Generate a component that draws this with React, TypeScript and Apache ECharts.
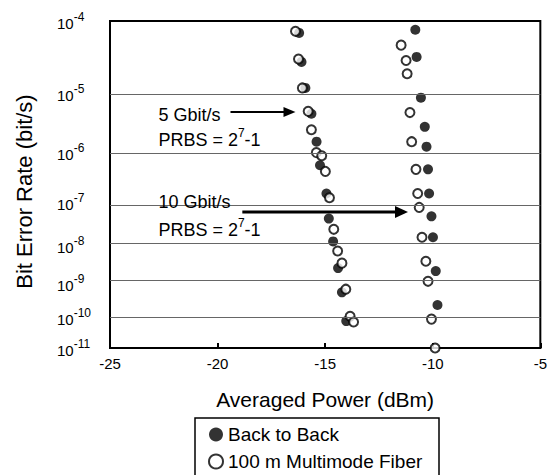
import React, { useEffect, useRef } from "react";
import * as echarts from "echarts";

// BER axis ticks: exponent n means BER = 10^-n
const tickExponents = [4, 5, 6, 7, 8, 9, 10, 11];
const gridExponents = [5, 6, 7, 8, 9, 10];
const xMin = -25;
const xMax = -5;
const xInterval = 5;

// Back to Back (filled) – 5 Gbit/s and 10 Gbit/s
const b2bPower = [
  -16.21, -16.1, -15.92, -15.64, -15.4, -15.24, -14.94, -14.83, -14.63, -14.4, -14.22, -14.02,
  -10.81, -10.75, -10.55, -10.37, -10.29, -10.22, -10.17, -10.06, -9.99, -9.86, -9.78,
];
const b2bBerExp = [
  4.15, 4.54, 4.92, 5.33, 5.81, 6.25, 6.82, 7.37, 7.91, 8.59, 9.26, 10.12,
  4.11, 4.47, 5.07, 5.55, 5.9, 6.33, 6.82, 7.32, 7.81, 8.67, 9.63,
];

// 100 m Multimode Fiber (open)
const mmfPower = [
  -16.38, -16.24, -16.06, -15.79, -15.64, -15.41, -15.16, -14.99, -14.8, -14.6, -14.42, -14.22, -14.04, -13.84, -13.68,
  -11.47, -11.24, -11.19, -11.06, -10.98, -10.78, -10.7, -10.63, -10.5, -10.32, -10.22, -10.06, -9.89,
];
const mmfBerExp = [
  4.13, 4.5, 4.92, 5.29, 5.6, 6.01, 6.07, 6.37, 6.91, 7.62, 8.15, 8.46, 9.17, 9.97, 10.15,
  4.31, 4.52, 4.71, 5.31, 5.81, 6.33, 6.82, 7.12, 7.81, 8.41, 8.95, 10.06, 11.0,
];

// annotation anchors (power dBm, BER exponent)
const note5Text = { x: -22.75, line1: 5.345, line2: 5.739 };
const note5Arrow = { from: -19.4, to: -16.38, e: 5.3 };
const note10Text = { x: -22.75, line1: 7.0, line2: 7.598 };
const note10Arrow = { from: -18.85, to: -11.15, e: 7.224 };

const FONT = "'Liberation Sans', Arial, Helvetica, sans-serif";
const ly = (e: number) => Math.log10(e);

export default function App() {
  const ref = useRef<HTMLDivElement>(null);

  useEffect(() => {
    document.body.style.margin = "0";
    const el = ref.current!;
    const chart = echarts.init(el, null, { renderer: "svg" });

    const option: any = {
      animation: false,
      backgroundColor: "#fff",
      textStyle: { fontFamily: FONT, color: "#000" },
      grid: {
        left: 110,
        right: 4,
        top: 21,
        bottom: 127,
        show: true,
        borderColor: "#000",
        borderWidth: 2,
        backgroundColor: "transparent",
      },
      xAxis: {
        type: "value",
        min: xMin,
        max: xMax,
        interval: xInterval,
        name: "Averaged Power (dBm)",
        nameLocation: "middle",
        nameGap: 41,
        nameTextStyle: { fontSize: 21, color: "#000", fontFamily: FONT },
        axisLine: { show: true, lineStyle: { color: "#000", width: 2 } },
        axisTick: { show: true, inside: true, length: 5, lineStyle: { color: "#000", width: 2 } },
        axisLabel: { fontSize: 15, color: "#000", margin: 8, fontFamily: FONT },
        splitLine: { show: false },
      },
      yAxis: {
        type: "value",
        min: ly(tickExponents[0]),
        max: ly(tickExponents[tickExponents.length - 1]),
        inverse: true,
        name: "Bit Error Rate (bit/s)",
        nameLocation: "middle",
        nameGap: 75,
        nameTextStyle: { fontSize: 22, color: "#000", fontFamily: FONT, padding: [0, 14, 0, 0] },
        axisLine: { show: true, lineStyle: { color: "#000", width: 2 } },
        axisTick: { show: false },
        splitLine: { show: false },
        axisLabel: {
          customValues: tickExponents.map(ly),
          align: "left",
          margin: 53,
          formatter: (v: number) => `{b|10}{s|-${Math.round(Math.pow(10, v))}}`,
          rich: {
            b: { fontSize: 15, lineHeight: 20, verticalAlign: "bottom", color: "#000", fontFamily: FONT },
            s: { fontSize: 12, lineHeight: 12, verticalAlign: "top", color: "#000", fontFamily: FONT },
          },
        },
      },
      legend: {
        orient: "vertical",
        left: 208,
        top: 425,
        padding: 0,
        itemGap: 8,
        itemWidth: 14,
        itemHeight: 14,
        data: ["Back to Back", "100 m Multimode Fiber"],
        textStyle: { fontSize: 19, color: "#000", fontFamily: FONT },
      },
      series: [
        {
          type: "scatter",
          data: [],
          silent: true,
          z: 1,
          markLine: {
            silent: true,
            symbol: "none",
            label: { show: false },
            lineStyle: { color: "#666", width: 1, type: "solid" },
            data: gridExponents.map((e) => ({ yAxis: ly(e) })),
          },
        },
        {
          name: "Back to Back",
          type: "scatter",
          symbol: "circle",
          symbolSize: 10,
          z: 3,
          itemStyle: { color: "#000" },
          data: b2bPower.map((x, i) => [x, ly(b2bBerExp[i])]),
        },
        {
          name: "100 m Multimode Fiber",
          type: "scatter",
          symbol: "circle",
          symbolSize: 9,
          z: 4,
          itemStyle: { color: "#fff", borderColor: "#000", borderWidth: 2 },
          data: mmfPower.map((x, i) => [x, ly(mmfBerExp[i])]),
        },
      ],
    };
    chart.setOption(option);

    const px = (x: number, e: number) => chart.convertToPixel({ gridIndex: 0 }, [x, ly(e)]) as number[];
    const arrow = (from: number, to: number, e: number, w: number, hl: number, hw: number) => {
      const a = px(from, e);
      const b = px(to, e);
      return [
        { type: "line", z: 10, shape: { x1: a[0], y1: a[1], x2: b[0] - hl + 1, y2: b[1] }, style: { stroke: "#000", lineWidth: w } },
        {
          type: "polygon",
          z: 10,
          shape: { points: [[b[0], b[1]], [b[0] - hl, b[1] - hw], [b[0] - hl, b[1] + hw]] },
          style: { fill: "#000" },
        },
      ];
    };
    const txt = (x: number, e: number, text: string) => {
      const p = px(x, e);
      return {
        type: "text",
        z: 10,
        x: p[0],
        y: p[1],
        style: {
          text,
          fontSize: 18,
          fontFamily: FONT,
          fill: "#000",
          align: "left",
          verticalAlign: "middle",
          rich: {
            s: { fontSize: 12, lineHeight: 12, verticalAlign: "top", fontFamily: FONT, fill: "#000" },
            n: { fontSize: 18, lineHeight: 22, verticalAlign: "bottom", fontFamily: FONT, fill: "#000" },
          },
        },
      };
    };
    const p10 = px(note10Text.x, note10Text.line1);
    chart.setOption({
      graphic: [
        txt(note5Text.x, note5Text.line1, "5 Gbit/s"),
        txt(note5Text.x, note5Text.line2, "{n|PRBS = 2}{s|7}{n|-1}"),
        ...arrow(note5Arrow.from, note5Arrow.to, note5Arrow.e, 2, 12, 5),
        {
          type: "rect",
          z: 9,
          shape: { x: p10[0] - 7, y: p10[1] - 3, width: 124, height: 6 },
          style: { fill: "#fff" },
        },
        txt(note10Text.x, note10Text.line1, "10 Gbit/s"),
        txt(note10Text.x, note10Text.line2, "{n|PRBS = 2}{s|7}{n|-1}"),
        ...arrow(note10Arrow.from, note10Arrow.to, note10Arrow.e, 3, 13, 6),
        {
          type: "rect",
          z: 10,
          silent: true,
          shape: { x: 195, y: 418, width: 244, height: 80 },
          style: { fill: "none", stroke: "#000", lineWidth: 1.5 },
        },
      ],
    });

    return () => chart.dispose();
  }, []);

  return <div ref={ref} style={{ width: 550, height: 475 }} />;
}
